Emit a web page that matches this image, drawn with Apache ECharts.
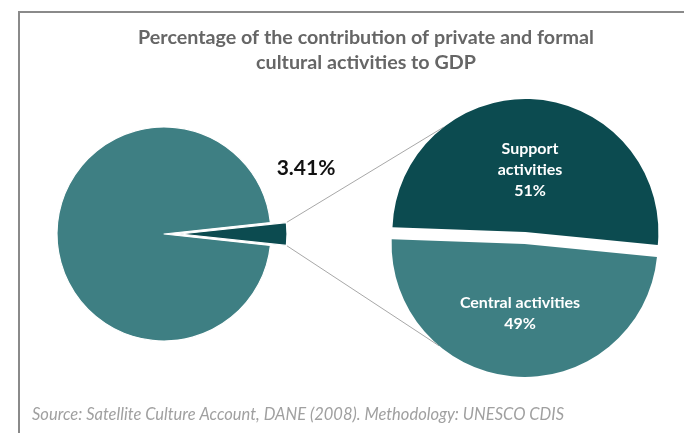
<!DOCTYPE html>
<html>
<head>
<meta charset="utf-8">
<script src="https://cdn.jsdelivr.net/npm/echarts@6/dist/echarts.min.js"></script>
<style>
html,body{margin:0;padding:0;background:#fff;}
#chart{width:684px;height:433px;}
</style>
</head>
<body>
<div id="chart"></div>
<script>
// ---- data ----
var titleLines = ['Percentage of the contribution of private and formal', 'cultural activities to GDP'];
var mainNames = ['Private and formal cultural activities', 'Rest of GDP'];
var mainValues = [3.41, 96.59];
var subNames = ['Support activities', 'Central activities'];
var subValues = [51, 49];
var sourceText = 'Source: Satellite Culture Account, DANE (2008). Methodology: UNESCO CDIS';

// ---- layout ----
var FONT = 'Lato';
var mainCenter = [164, 234], mainR = 107, mainOffset = 16;
var subCenter = [525, 238], subR = 133, subOffset = 6;
var mainStart = mainValues[0] / (mainValues[0] + mainValues[1]) * 360 / 2;
var subStart = 178;
var darkTeal = '#0c4b50', teal = '#3e7f83';

var chart = echarts.init(document.getElementById('chart'), null, {renderer: 'canvas'});

function rad(a){ return a * Math.PI / 180; }
// connector endpoints computed from the pie geometry
var half = mainStart;
var apex = [mainCenter[0] + mainOffset, mainCenter[1]];
var p1 = [apex[0] + mainR * Math.cos(rad(half)), apex[1] - mainR * Math.sin(rad(half))];
var p2 = [apex[0] + mainR * Math.cos(rad(half)), apex[1] + mainR * Math.sin(rad(half))];
var subTot = subValues[0] + subValues[1];
var midA = subStart - subValues[0] / subTot * 360 / 2;
var midB = midA - 180;
var cA = [subCenter[0] + subOffset * Math.cos(rad(midA)), subCenter[1] - subOffset * Math.sin(rad(midA))];
var cB = [subCenter[0] + subOffset * Math.cos(rad(midB)), subCenter[1] - subOffset * Math.sin(rad(midB))];
var q1 = [cA[0] + subR * Math.cos(rad(128)), cA[1] - subR * Math.sin(rad(128))];
var q2 = [cB[0] + subR * Math.cos(rad(-130)), cB[1] - subR * Math.sin(rad(-130))];

var labelText = {fontFamily: FONT, fontSize: 16, fontWeight: 'bold', color: '#fff', lineHeight: 21};

var option = {
  backgroundColor: '#fff',
  animation: false,
  title: {
    text: titleLines.join('\n'),
    left: 361, top: 20,
    textAlign: 'center',
    textStyle: {fontFamily: FONT, fontSize: 19.7, fontWeight: 'bold', color: '#666666', lineHeight: 25}
  },
  graphic: [
    {type: 'rect', z: 0, shape: {x: 19, y: 12, width: 700, height: 460},
     style: {fill: 'none', stroke: '#8a8a8a', lineWidth: 2}},
    {type: 'line', z: 1, shape: {x1: p1[0], y1: p1[1], x2: q1[0], y2: q1[1]},
     style: {stroke: '#a8a8a8', lineWidth: 1}},
    {type: 'line', z: 1, shape: {x1: p2[0], y1: p2[1], x2: q2[0], y2: q2[1]},
     style: {stroke: '#a8a8a8', lineWidth: 1}},
    {type: 'text', z: 5, x: 306, y: 168,
     style: {text: mainValues[0] + '%', font: 'bold 21px ' + FONT, fill: '#111',
             textAlign: 'center', textVerticalAlign: 'middle'}},
    {type: 'text', z: 5, left: 32, top: 406,
     style: {text: sourceText, font: 'italic 16.5px ' + FONT, fill: '#a0a0a0'}}
  ],
  series: [
    {
      type: 'pie', z: 3,
      center: mainCenter, radius: mainR,
      startAngle: mainStart, clockwise: true,
      selectedMode: 'single', selectedOffset: mainOffset,
      emphasis: {disabled: true},
      itemStyle: {borderColor: '#ffffff', borderWidth: 1.2},
      label: {show: false},
      labelLine: {show: false},
      data: [
        {name: mainNames[0], value: mainValues[0], selected: true, itemStyle: {color: darkTeal}},
        {name: mainNames[1], value: mainValues[1], itemStyle: {color: teal}}
      ]
    },
    {
      type: 'pie', z: 3,
      center: subCenter, radius: subR,
      startAngle: subStart, clockwise: true,
      selectedMode: 'multiple', selectedOffset: subOffset,
      emphasis: {disabled: true},
      itemStyle: {borderWidth: 0},
      label: Object.assign({show: true, position: 'inside',
        formatter: function (p) {
          var name = p.dataIndex === 0 ? p.name.replace(' ', '\n') : p.name;
          return (p.dataIndex === 0 ? '{s|}\n' : '') + name + '\n' + Math.round(p.percent) + '%';
        },
        rich: {s: {height: 14, lineHeight: 14}}
      }, labelText),
      labelLine: {show: false},
      data: [
        {name: subNames[0], value: subValues[0], selected: true, itemStyle: {color: darkTeal}},
        {name: subNames[1], value: subValues[1], selected: true, itemStyle: {color: teal}}
      ]
    }
  ]
};
chart.setOption(option);
</script>
</body>
</html>
